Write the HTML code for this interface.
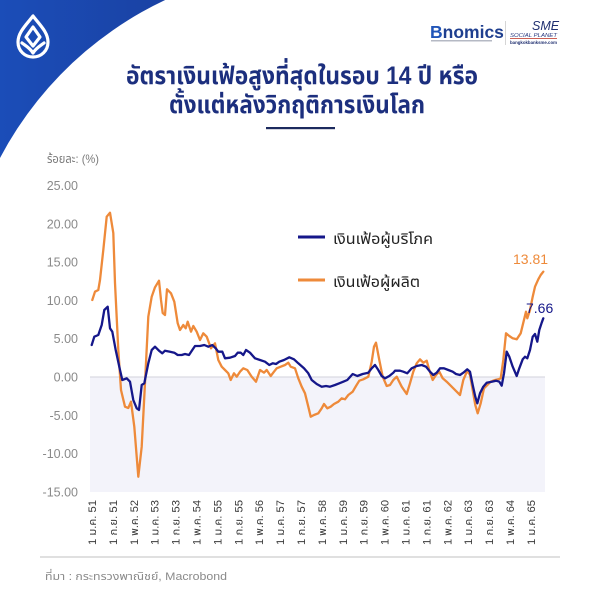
<!DOCTYPE html>
<html>
<head>
<meta charset="utf-8">
<style>
  html,body{margin:0;padding:0;background:#fff;}
  svg{display:block;}
  .th{font-family:"Liberation Sans","Noto Sans Thai","Noto Sans Thai UI","Tlwg Typo","Loma","Garuda","Tahoma","DejaVu Sans",sans-serif;}
  .lat{font-family:"Liberation Sans","DejaVu Sans",sans-serif;}
</style>
</head>
<body>
<svg width="600" height="601" viewBox="0 0 600 601" xmlns="http://www.w3.org/2000/svg">
  <defs>
    <linearGradient id="bg" x1="0" y1="0" x2="1" y2="0">
      <stop offset="0" stop-color="#1b4db8"/>
      <stop offset="0.45" stop-color="#1a3f9e"/>
      <stop offset="1" stop-color="#0b215f"/>
    </linearGradient>
  </defs>
  <rect x="0" y="0" width="600" height="601" fill="#ffffff"/>

  <!-- top-left blue arc shape -->
  <path d="M0,0 L472,0 A360,360 0 0,0 0,158 Z" fill="url(#bg)"/>

  <!-- logo (lotus bud) -->
  <g fill="none" stroke="#ffffff" stroke-width="3.2" stroke-linejoin="round" stroke-linecap="round">
    <path d="M33,16 C27,24 18,32 18,42 C18,51 25,57 33,57 C41,57 48,51 48,42 C48,32 39,24 33,16 Z"/>
    <path d="M33,27 L40,37 L33,46 L26,37 Z"/>
    <path d="M22,43 C26,46 30,48 33,53 C36,48 40,46 44,43"/>
  </g>

  <!-- top-right logos -->
  <text x="430" y="38" class="lat" font-size="17.5" font-weight="bold" fill="#1f3f8f"><tspan fill="#2155b8">B</tspan>nomics</text>
  <rect x="431" y="40" width="61" height="1.5" fill="#b5b9c4"/>
  <rect x="505" y="21" width="1" height="24" fill="#d5d5d5"/>
  <text x="532" y="30" class="lat" font-size="12.5" font-style="italic" fill="#1f2f70">SME</text>
  <text x="510" y="37" class="lat" font-size="5.2" font-style="italic" fill="#2a3a80" textLength="47" lengthAdjust="spacingAndGlyphs">SOCIAL PLANET</text>
  <rect x="510" y="38" width="47" height="0.8" fill="#c0392b"/>
  <text x="510" y="44" class="lat" font-size="4.5" font-weight="bold" fill="#1f2f70" textLength="47" lengthAdjust="spacingAndGlyphs">bangkokbanksme.com</text>

  <!-- title -->
  <text x="126" y="84" class="th" font-size="25" font-weight="bold" fill="#1c2f7e" textLength="352" lengthAdjust="spacingAndGlyphs">อัตราเงินเฟ้อสูงที่สุดในรอบ 14 ปี หรือ</text>
  <text x="169" y="113" class="th" font-size="25" font-weight="bold" fill="#1c2f7e" textLength="256" lengthAdjust="spacingAndGlyphs">ตั้งแต่หลังวิกฤติการเงินโลก</text>
  <rect x="266" y="127" width="69" height="2.2" fill="#1c2a5e"/>

  <!-- unit label -->
  <text x="47" y="163" class="th" font-size="12" fill="#7a7a7a" textLength="52" lengthAdjust="spacingAndGlyphs">ร้อยละ: (%)</text>

  <!-- plot negative shaded area -->
  <rect x="90" y="377" width="455" height="115" fill="#f3f3fa"/>
  <line x1="90" y1="377" x2="545" y2="377" stroke="#d9d9e2" stroke-width="1.2"/>

  <!-- y tick labels -->
  <g class="lat" font-size="12.5" fill="#8a8a8a" text-anchor="end">
    <text x="78" y="190">25.00</text>
    <text x="78" y="228.3">20.00</text>
    <text x="78" y="266.6">15.00</text>
    <text x="78" y="304.9">10.00</text>
    <text x="78" y="343.2">5.00</text>
    <text x="78" y="381.5">0.00</text>
    <text x="78" y="419.8">-5.00</text>
    <text x="78" y="458.1">-10.00</text>
    <text x="78" y="496.4">-15.00</text>
  </g>

  <!-- x tick labels -->
  <g class="th" font-size="11" fill="#3a3a3a" text-anchor="end">
    <text transform="translate(96,500) rotate(-90)" textLength="45" lengthAdjust="spacingAndGlyphs">1 ม.ค. 51</text>
    <text transform="translate(116.9,500) rotate(-90)" textLength="45" lengthAdjust="spacingAndGlyphs">1 ก.ย. 51</text>
    <text transform="translate(137.8,500) rotate(-90)" textLength="45" lengthAdjust="spacingAndGlyphs">1 พ.ค. 52</text>
    <text transform="translate(158.7,500) rotate(-90)" textLength="45" lengthAdjust="spacingAndGlyphs">1 ม.ค. 53</text>
    <text transform="translate(179.6,500) rotate(-90)" textLength="45" lengthAdjust="spacingAndGlyphs">1 ก.ย. 53</text>
    <text transform="translate(200.5,500) rotate(-90)" textLength="45" lengthAdjust="spacingAndGlyphs">1 พ.ค. 54</text>
    <text transform="translate(221.4,500) rotate(-90)" textLength="45" lengthAdjust="spacingAndGlyphs">1 ม.ค. 55</text>
    <text transform="translate(242.3,500) rotate(-90)" textLength="45" lengthAdjust="spacingAndGlyphs">1 ก.ย. 55</text>
    <text transform="translate(263.2,500) rotate(-90)" textLength="45" lengthAdjust="spacingAndGlyphs">1 พ.ค. 56</text>
    <text transform="translate(284.1,500) rotate(-90)" textLength="45" lengthAdjust="spacingAndGlyphs">1 ม.ค. 57</text>
    <text transform="translate(305,500) rotate(-90)" textLength="45" lengthAdjust="spacingAndGlyphs">1 ก.ย. 57</text>
    <text transform="translate(325.9,500) rotate(-90)" textLength="45" lengthAdjust="spacingAndGlyphs">1 พ.ค. 58</text>
    <text transform="translate(346.8,500) rotate(-90)" textLength="45" lengthAdjust="spacingAndGlyphs">1 ม.ค. 59</text>
    <text transform="translate(367.7,500) rotate(-90)" textLength="45" lengthAdjust="spacingAndGlyphs">1 ก.ย. 59</text>
    <text transform="translate(388.6,500) rotate(-90)" textLength="45" lengthAdjust="spacingAndGlyphs">1 พ.ค. 60</text>
    <text transform="translate(409.5,500) rotate(-90)" textLength="45" lengthAdjust="spacingAndGlyphs">1 ม.ค. 61</text>
    <text transform="translate(430.4,500) rotate(-90)" textLength="45" lengthAdjust="spacingAndGlyphs">1 ก.ย. 61</text>
    <text transform="translate(451.3,500) rotate(-90)" textLength="45" lengthAdjust="spacingAndGlyphs">1 พ.ค. 62</text>
    <text transform="translate(472.2,500) rotate(-90)" textLength="45" lengthAdjust="spacingAndGlyphs">1 ม.ค. 63</text>
    <text transform="translate(493.1,500) rotate(-90)" textLength="45" lengthAdjust="spacingAndGlyphs">1 ก.ย. 63</text>
    <text transform="translate(514,500) rotate(-90)" textLength="45" lengthAdjust="spacingAndGlyphs">1 พ.ค. 64</text>
    <text transform="translate(534.9,500) rotate(-90)" textLength="45" lengthAdjust="spacingAndGlyphs">1 ม.ค. 65</text>
  </g>

  <!-- PPI (orange) -->
  <polyline fill="none" stroke="#ee8a3a" stroke-width="2.3" stroke-linejoin="round" stroke-linecap="round"
    points="92.3,300 95,291.7 98.3,290 100,280 103.3,250 106.7,216.7 110,212.7 113.3,233 115,283 118.3,350 121,390 125,406.7 128.3,408 131,401.7 134.3,426.7 138.3,476.7 141.7,446.7 145,383 148.3,316.7 151.7,296.7 155,287.3 159,280.7 161,300 162.7,313 165,315 167,289.3 171,293.3 174.3,301.7 177.7,323.3 180,330 183.3,325 185.7,328.3 187.7,321.7 191,331.7 193.3,326 196.7,331.7 200,340 203.3,333.3 206.7,336.7 211,348.3 215,343.3 218.3,360 221.7,366.7 225,370 228.3,373.3 230.7,380 234,373.3 236.7,376.7 240,371.7 243.3,368.3 247.3,370 251.7,376.7 256,381.7 260,370 264,372.7 266.7,370 270.7,376 274,371.7 276.7,368.3 280.7,366.7 285,365 288.3,362.7 290.7,366.7 295,368.3 298.3,378.3 301.7,386.7 305,393.3 308.3,406.7 310.7,416.7 314,415 318.3,413.3 321.7,408.3 324,404 327.3,408.3 330.7,406.7 334,404 338.3,401.7 341.7,398.3 345,399.3 348.3,395 352.7,391.7 356,386 359.3,380.7 363.3,379.3 368.3,376.7 371.7,361.7 374,346.7 376,342.7 379.3,360 382.7,376.7 386.7,386 390,385 393.3,380 396.7,376.7 401.7,386.7 406.7,394 410,383.3 413.3,371.7 416.7,363.3 420,359.3 423.3,362.7 426.7,360.7 429.3,370 432.7,380 436,375 439.3,371.7 442.7,378.3 446.7,381.7 451.7,386.7 456.7,391.7 460,395 463.3,380 467.3,370.7 470,375 472.7,390 475.3,405 477.7,413.3 480.7,403.3 484,388.3 487.3,385 490.7,381.7 495,380 498.3,379.3 500.7,378.3 503.3,360 506,333.3 509.3,336 512.7,338.3 516.7,339.3 520.7,333.3 523.3,322.7 526,311.7 527.3,318.3 530,310 532.7,296.7 535,286.7 538.3,279.3 540.7,275 543.3,271.7"/>

  <!-- CPI (navy) -->
  <polyline fill="none" stroke="#15178a" stroke-width="2.3" stroke-linejoin="round" stroke-linecap="round"
    points="91.7,345 94.3,336.7 98.3,335 101.7,325 104.3,310 107.7,306.7 110,328.3 112.3,331.7 115.7,350 120,370 122.3,380 126.7,378.3 130,381.7 133.3,400 136.7,408.3 139,410 141.7,385 144.3,383.3 148.3,363.3 151.7,350 155,346.7 159,350.7 162.3,353.3 165,350.7 170,351.7 174.3,352.7 177.7,355 181.7,355 185,354 189,355 192.3,350 195,346 200,346 204.3,345 208.3,346.7 212.3,345 215.7,348.3 218.3,351.7 222.3,351.7 225,358.3 230,357.7 235,356 237.7,352.7 240.7,352.7 243.3,355 246,350 250,352.7 255,358.3 260,360 265,361.7 269.3,365 272.7,363.3 276,364 279.3,361.7 284,360 289.3,357.3 294,359.3 298.3,363.3 304,368.3 308.3,373.3 311.7,380 316.7,384 321.7,386.7 326,386 330,386.7 335,385 339.3,383.3 343.3,381.7 347.3,380 352.7,374 357.3,376 362.7,374 368.3,372.7 371.7,368.3 375,365 378.3,370 381.7,376 385,378.3 389.3,376 393.3,372.7 395,370.7 400,370.7 403.3,371.7 407.3,373.3 411.7,368.3 416.7,366 421.7,365 426,366.7 430,371.7 433.3,375 436.7,372.7 440,368.3 444,368.3 448.3,370 452.7,371.7 456,374 460,375 463.3,372.7 467.3,369.3 470,371.7 472.7,385 475.3,396.7 477.3,403.3 480,393.3 483.3,386.7 486.7,382.7 491.7,381.7 496,380.7 499.3,381.7 501.7,385.7 504,373.3 506.7,351.7 509.3,356.7 512.7,366.7 516.7,376 519.3,368.3 522.7,359.3 525,356.7 527.3,358.3 530,350 532.7,336.7 535,334 537.3,341.7 539.3,330 541.7,322.7 543.3,318.3"/>

  <!-- end labels -->
  <text x="513" y="264" class="lat" font-size="14" fill="#ee8a3a">13.81</text>
  <text x="526" y="313" class="lat" font-size="14" fill="#15178a">7.66</text>

  <!-- legend -->
  <rect x="298" y="235.5" width="27" height="3" fill="#15178a"/>
  <text x="333" y="244" class="th" font-size="15" fill="#222" textLength="100" lengthAdjust="spacingAndGlyphs">เงินเฟ้อผู้บริโภค</text>
  <rect x="298" y="278.5" width="27" height="3" fill="#ee8a3a"/>
  <text x="333" y="287" class="th" font-size="15" fill="#222" textLength="87" lengthAdjust="spacingAndGlyphs">เงินเฟ้อผู้ผลิต</text>

  <!-- bottom rule and source -->
  <rect x="40" y="556" width="520" height="2" fill="#e0e0e0"/>
  <text x="45" y="580" class="th" font-size="11" fill="#8a8a8a" textLength="182" lengthAdjust="spacingAndGlyphs">ที่มา : กระทรวงพาณิชย์, Macrobond</text>
</svg>
</body>
</html>
